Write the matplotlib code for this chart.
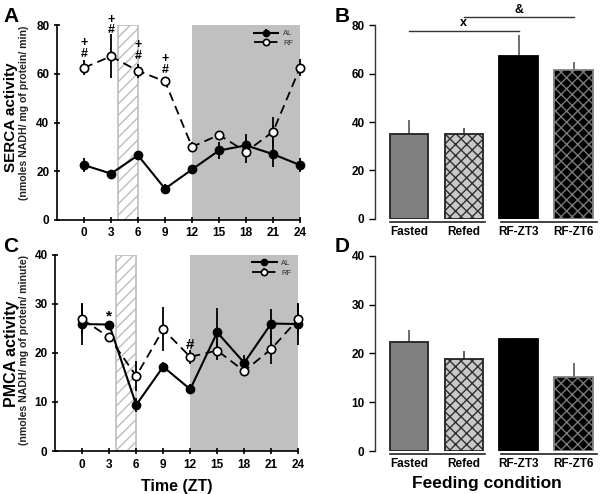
import matplotlib
matplotlib.use("Agg")
import matplotlib.pyplot as plt
import numpy as np

plt.rcParams['font.family'] = ['Liberation Sans', 'DejaVu Sans']
plt.rcParams['hatch.linewidth'] = 1.0

# ---------------- data ----------------
zt = [0, 3, 6, 9, 12, 15, 18, 21, 24]
xticks_zt = [0, 3, 6, 9, 12, 15, 18, 21, 24]

serca_al = [22.5, 19.0, 26.5, 12.8, 20.7, 28.5, 30.6, 27.0, 22.5]
serca_al_err = [2.9, 1.5, 1.0, 1.8, 1.0, 3.5, 4.5, 5.3, 3.0]
serca_rf = [62.5, 67.2, 61.2, 56.9, 30.0, 34.9, 28.0, 36.2, 62.5]
serca_rf_err = [3.0, 9.0, 3.0, 2.0, 2.0, 1.0, 4.5, 6.0, 3.5]

pmca_al = [25.9, 25.8, 9.4, 17.2, 12.6, 24.2, 18.0, 26.0, 25.9]
pmca_al_err = [4.2, 0.6, 1.5, 1.0, 1.0, 5.0, 1.6, 3.0, 4.2]
pmca_rf = [26.9, 23.2, 15.3, 24.8, 19.2, 20.5, 16.3, 20.8, 26.9]
pmca_rf_err = [3.0, 0.5, 3.0, 4.5, 1.5, 2.0, 1.0, 3.0, 3.0]

conditions = ['Fasted', 'Refed', 'RF-ZT3', 'RF-ZT6']
serca_bar = [35.2, 35.2, 67.1, 61.6]
serca_bar_err = [5.8, 2.3, 8.9, 3.0]
pmca_bar = [22.4, 18.8, 22.9, 15.2]
pmca_bar_err = [2.4, 1.8, 0.3, 2.9]

# annotations (x, y, text)
serca_ann = [(0, 72.8, '+'), (0, 68.0, '#'), (3, 82.3, '+'), (3, 78.0, '#'),
             (6, 71.8, '+'), (6, 67.2, '#'), (9, 66.3, '+'), (9, 61.7, '#')]
pmca_ann = [(3, 27.5, '*'), (12, 21.7, '#')]

# significance brackets in B: (x_start, x_end, y, label)
serca_sig = [(0, 2, 77.7, 'x'), (1, 3, 83.3, '&')]

feed_window = (3.8, 6.0)
dark_phase = (12, 24)

# ---------------- figure ----------------
fig = plt.figure(figsize=(6.0, 4.94), dpi=100)
axA = fig.add_axes([0.095, 0.555, 0.405, 0.394])
axC = fig.add_axes([0.092, 0.087, 0.405, 0.397])
axB = fig.add_axes([0.625, 0.557, 0.372, 0.392])
axD = fig.add_axes([0.625, 0.087, 0.372, 0.395])

def style_line_axes(ax, ymax, yticks):
    ax.set_xlim(-3, 24)
    ax.set_ylim(0, ymax)
    ax.set_xticks(xticks_zt)
    ax.set_yticks(yticks)
    for s in ['top', 'right']:
        ax.spines[s].set_visible(False)
    for s in ['left', 'bottom']:
        ax.spines[s].set_linewidth(1.2)
    ax.tick_params(axis='both', direction='inout', length=5, width=1.2,
                   labelsize=8.5, pad=3)
    for lab in ax.get_xticklabels() + ax.get_yticklabels():
        lab.set_fontweight('bold')
    ax.axvspan(dark_phase[0], dark_phase[1], color='#c0c0c0', zorder=0, lw=0)
    ax.bar((feed_window[0] + feed_window[1]) / 2, ymax,
           width=feed_window[1] - feed_window[0], bottom=0,
           facecolor='white', edgecolor='#bdbdbd', hatch='///', lw=1.2, zorder=0.5)

def plot_series(ax, al, al_err, rf, rf_err):
    ax.errorbar(zt, al, yerr=al_err, color='black', lw=1.5, marker='o', ms=6,
                mfc='black', mec='black', elinewidth=1.3, capsize=0, zorder=3,
                label='AL', clip_on=False)
    ax.errorbar(zt, rf, yerr=rf_err, color='black', lw=1.3, ls=(0, (5, 3)),
                marker='o', ms=6, mfc='white', mec='black', mew=1.2,
                elinewidth=1.3, capsize=0, zorder=4, label='RF', clip_on=False)
    leg = ax.legend(loc='upper right', bbox_to_anchor=(1.0, 1.01), fontsize=5.5,
                    frameon=False, handlelength=3.2, markerscale=0.75,
                    labelspacing=0.3, handletextpad=0.6)
    for t in leg.get_texts():
        t.set_color('#333333')

# Panel A
style_line_axes(axA, 80, [0, 20, 40, 60, 80])
plot_series(axA, serca_al, serca_al_err, serca_rf, serca_rf_err)
for x, y, t in serca_ann:
    axA.text(x, y, t, ha='center', va='center', fontsize=9, fontweight='bold',
             clip_on=False)

# Panel C
style_line_axes(axC, 40, [0, 10, 20, 30, 40])
plot_series(axC, pmca_al, pmca_al_err, pmca_rf, pmca_rf_err)
for x, y, t in pmca_ann:
    axC.text(x, y, t, ha='center', va='center', fontsize=11, fontweight='bold',
             clip_on=False)
axC.set_xlabel('Time (ZT)', fontsize=11.5, fontweight='bold', labelpad=6)

# y labels
fig.text(0.019, 0.763, 'SERCA activity', rotation=90, ha='center', va='center',
         fontsize=11, fontweight='bold')
fig.text(0.040, 0.772, '(nmoles NADH/ mg of protein/ min)', rotation=90,
         ha='center', va='center', fontsize=7.6, fontweight='bold', color='#222222')
fig.text(0.019, 0.283, 'PMCA activity', rotation=90, ha='center', va='center',
         fontsize=11.5, fontweight='bold')
fig.text(0.040, 0.291, '(nmoles NADH/ mg of protein/ minute)', rotation=90,
         ha='center', va='center', fontsize=7.6, fontweight='bold', color='#222222')

# Bar panels
bar_face = ['#808080', '#c8c8c8', 'black', 'black']
bar_hatch = [None, 'xxx', None, 'xxx']
hatch_col = [None, '#303030', None, '#7a7a7a']
border_col = ['#222222', '#222222', 'black', '#808080']
xpos = np.arange(len(conditions))

def bar_panel(ax, vals, errs, ymax, yticks):
    ax.set_xlim(-0.62, 3.45)
    ax.set_ylim(0, ymax)
    for i in range(len(vals)):
        if bar_hatch[i]:
            ax.bar(xpos[i], vals[i], width=0.7, facecolor=bar_face[i],
                   edgecolor=hatch_col[i], hatch=bar_hatch[i], lw=0, zorder=2)
            ax.bar(xpos[i], vals[i], width=0.7, fill=False,
                   edgecolor=border_col[i], lw=1.3, zorder=3)
        else:
            ax.bar(xpos[i], vals[i], width=0.7, facecolor=bar_face[i],
                   edgecolor=border_col[i], lw=1.3, zorder=2)
    ax.errorbar(xpos, vals, yerr=[np.zeros(len(errs)), errs], fmt='none',
                ecolor=['#555555', '#444444', '#555555', '#555555'],
                elinewidth=1.2, capsize=0, zorder=1)
    for s in ['top', 'right', 'bottom']:
        ax.spines[s].set_visible(False)
    ax.spines['left'].set_linewidth(1.0)
    ax.spines['left'].set_color('#333333')
    ax.set_yticks(yticks)
    ax.set_xticks(xpos)
    ax.set_xticklabels(conditions)
    ax.tick_params(axis='x', length=0, labelsize=8.5, pad=5)
    ax.tick_params(axis='y', length=4, width=1.0, labelsize=8.5, direction='out')
    for lab in ax.get_xticklabels() + ax.get_yticklabels():
        lab.set_fontweight('bold')
    tr = ax.get_xaxis_transform()
    for a, b in [(-0.35, 1.38), (1.67, 3.42)]:
        ax.plot([a, b], [-0.015, -0.015], color='#222222', lw=1.2,
                transform=tr, clip_on=False)

bar_panel(axB, serca_bar, serca_bar_err, 80, [0, 20, 40, 60, 80])
for a, b, y, t in serca_sig:
    axB.plot([a, b], [y, y], color='#333333', lw=1.0, clip_on=False)
    axB.text((a + b) / 2, y + 0.7, t, ha='center', va='bottom', fontsize=9,
             fontweight='bold', clip_on=False)

bar_panel(axD, pmca_bar, pmca_bar_err, 40, [0, 10, 20, 30, 40])
axD.set_xlabel('Feeding condition', fontsize=12.5, fontweight='bold', labelpad=4)

# panel letters
for x, y, t in [(0.005, 0.985, 'A'), (0.558, 0.985, 'B'),
                (0.005, 0.52, 'C'), (0.558, 0.52, 'D')]:
    fig.text(x, y, t, ha='left', va='top', fontsize=15, fontweight='bold')

fig.savefig('out.png', dpi=100)
